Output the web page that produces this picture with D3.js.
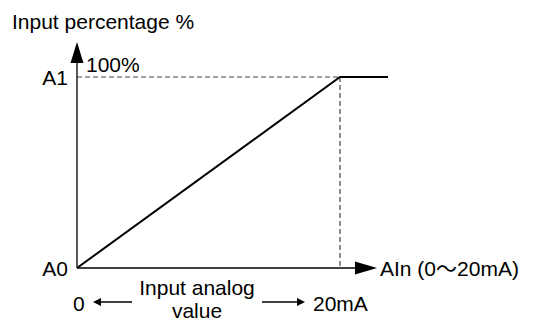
<!DOCTYPE html>
<html><head><meta charset="utf-8">
<script src="https://cdn.jsdelivr.net/npm/d3@7"></script>
<style>body{margin:0;background:#fff}svg{display:block}text{font-family:"Liberation Sans",Arial,sans-serif;fill:#000}</style>
</head><body>
<script>
// Data
const inputMA = [0, 20, 23.65];      // analog input (mA)
const inputPct = [0, 100, 100];      // input percentage
const yTickLabels = ["A0", "A1"];
const yTickValues = [0, 100];
const xRangeMA = [0, 20];

const W = 539, H = 322;
const svg = d3.select("body").append("svg").attr("width", W).attr("height", H);

const x = d3.scaleLinear().domain([0, 20]).range([77, 340]);
const y = d3.scaleLinear().domain([0, 100]).range([268, 77]);

// dashed guides
const dash = "#444";
svg.append("line").attr("x1", x(0)).attr("x2", x(20)).attr("y1", y(100)).attr("y2", y(100))
  .attr("stroke", dash).attr("stroke-width", 1.2).attr("stroke-dasharray", "5,3");
svg.append("line").attr("x1", x(20)).attr("x2", x(20)).attr("y1", y(100)).attr("y2", y(0))
  .attr("stroke", dash).attr("stroke-width", 1.2).attr("stroke-dasharray", "5,3");

// axes
svg.append("line").attr("x1", x(0)).attr("x2", x(0)).attr("y1", y(0)).attr("y2", 60)
  .attr("stroke", "#000").attr("stroke-width", 1.3);
svg.append("path").attr("d", `M${x(0)},42 L${x(0)-6.5},63 L${x(0)+6.5},63 Z`).attr("fill", "#000");
svg.append("line").attr("x1", x(0)).attr("x2", 358).attr("y1", y(0)).attr("y2", y(0))
  .attr("stroke", "#000").attr("stroke-width", 1.3);
svg.append("path").attr("d", `M377,${y(0)} L355,${y(0)-6.5} L355,${y(0)+6.5} Z`).attr("fill", "#000");

// data line
const line = d3.line().x((d, i) => x(inputMA[i])).y((d, i) => y(inputPct[i]));
svg.append("path").datum(inputMA).attr("d", line).attr("fill", "none")
  .attr("stroke", "#000").attr("stroke-width", 2);

// labels
const fs = 21;
svg.append("text").attr("x", 12).attr("y", 29).attr("font-size", fs).text("Input percentage %");
svg.append("text").attr("x", 86).attr("y", 72).attr("font-size", fs).text("100%");
yTickValues.forEach((v, i) => {
  svg.append("text").attr("x", 68).attr("y", y(v) + 8).attr("text-anchor", "end")
    .attr("font-size", fs).text(yTickLabels[i]);
});
const ain = svg.append("text").attr("x", 380).attr("y", 276).attr("font-size", fs);
ain.append("tspan").text("AIn (0");
ain.append("tspan").style("font-family", "'Noto Sans CJK SC'").text("～");
ain.append("tspan").text("20mA)");

// bottom range annotation
svg.append("text").attr("x", 73).attr("y", 311).attr("font-size", fs).text(xRangeMA[0]);
svg.append("text").attr("x", 313).attr("y", 311).attr("font-size", fs).text(xRangeMA[1] + "mA");
svg.append("text").attr("x", 197).attr("y", 295).attr("text-anchor", "middle").attr("font-size", fs).text("Input analog");
svg.append("text").attr("x", 197).attr("y", 318).attr("text-anchor", "middle").attr("font-size", fs).text("value");
const ay = 302;
svg.append("line").attr("x1", 99).attr("x2", 132).attr("y1", ay).attr("y2", ay).attr("stroke", "#000").attr("stroke-width", 1.3);
svg.append("path").attr("d", `M93,${ay} L101,${ay-4} L101,${ay+4} Z`).attr("fill", "#000");
svg.append("line").attr("x1", 262).attr("x2", 299).attr("y1", ay).attr("y2", ay).attr("stroke", "#000").attr("stroke-width", 1.3);
svg.append("path").attr("d", `M305,${ay} L297,${ay-4} L297,${ay+4} Z`).attr("fill", "#000");
</script>
</body></html>
